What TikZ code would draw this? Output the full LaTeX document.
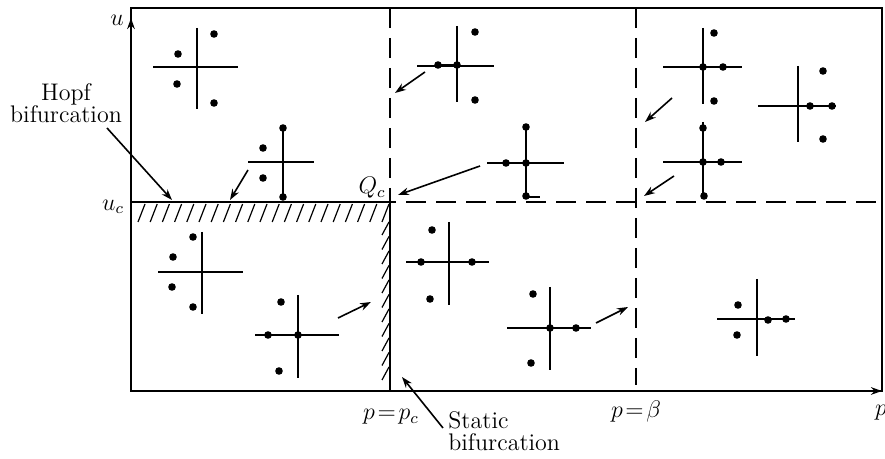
\documentclass[tikz,border=0pt]{standalone}
\usepackage{amsmath}
\usepackage{tikz}
\usetikzlibrary{arrows.meta, positioning, calc}

\begin{document}
\begin{tikzpicture}[x=0.5pt, y=-0.5pt, >={Stealth[length=5.5pt,width=3.8pt]},
    regionline/.style={line width=1pt},
    dashline/.style={line width=1.1pt, dash pattern=on 10pt off 5pt},
    crossline/.style={line width=0.65pt},
    crossbold/.style={line width=1.1pt},
    hatchline/.style={line width=0.6pt},
    flow/.style={->, line width=0.8pt},
    txt/.style={font=\large, inner sep=1pt}]

    \useasboundingbox (0,0) rectangle (885,459);

    % Frame and axes
    \coordinate (O) at (131,391);
    \coordinate (TL) at (131,8);
    \coordinate (TR) at (882,8);
    \coordinate (BR) at (882,391);
    \coordinate (Q) at (390,202);
    \coordinate (Luc) at (131,202);
    \coordinate (Ruc) at (882,202);
    \coordinate (Bpc) at (390,391);
    \coordinate (Tpc) at (390,8);
    \coordinate (Tb) at (636,8);
    \coordinate (Bb) at (636,385);

    \draw[regionline] (TL) -- (TR) -- (BR) -- (O) -- cycle;
    \draw[regionline, ->] (131,80) -- (131,18);
    \draw[regionline, ->] (800,391) -- (BR);
    \draw[regionline] (Luc) -- (Q) -- (Bpc);
    \draw[dashline] (Tpc) -- (Q) -- (Ruc);
    \draw[dashline] (Tb) -- (Bb);

    % Hatching on the bifurcation lines
    \foreach \x in {138,150.2,...,383}
        \draw[hatchline] (\x+7,204) -- (\x,222);
    \foreach \y in {222,236.5,...,380}
        \draw[hatchline] (389,\y) -- (382,\y+13);

    % Labels
    \node[txt] (u) at (117,20) {$u$};
    \node[txt] (uc) at (113,207) {$u_c$};
    \node[txt] (Qc) at (372,188) {$Q_c$};
    \node[txt] (pc) at (391,417) {$p\!=\!p_c$};
    \node[txt] (pbeta) at (636,412) {$p\!=\!\beta$};
    \node[txt] (pax) at (881,413) {$p$};
    \node[txt, align=center] (hopf) at (66,103) {Hopf\\[-3pt] bifurcation};
    \node[txt, align=left, anchor=north west] (static) at (446,409) {Static\\[-3pt] bifurcation};

    % Root diagrams, region p < p_c, u > u_c
    \draw[crossline] (153,67) -- (238,67) (197,28) -- (197,109);
    \foreach \x/\y in {214/34, 178/54, 177/84, 214/103}
        \fill (\x,\y) circle (1.9pt);
    \draw[crossline] (248,162) -- (314,162);
    \draw[crossbold] (283,126) -- (283,198);
    \foreach \x/\y in {283/128, 263/148, 263/178, 283/197}
        \fill (\x,\y) circle (1.9pt);

    % Region p_c < p < beta, u > u_c
    \draw[crossline] (417,66) -- (494,66) (457,26) -- (457,102);
    \draw[crossbold] (438,65) -- (457,65);
    \foreach \x/\y in {475/32, 438/65, 457/65, 475/100}
        \fill (\x,\y) circle (1.9pt);
    \draw[crossline] (487,163) -- (564,163);
    \draw[crossbold] (526,127) -- (526,197) -- (540,197);
    \foreach \x/\y in {526/127, 506/163, 526/163, 526/196}
        \fill (\x,\y) circle (1.9pt);

    % Region p > beta, u > u_c
    \draw[crossline] (663,67) -- (742,67) (703,28) -- (703,104);
    \foreach \x/\y in {714/33, 703/67, 723/67, 714/101}
        \fill (\x,\y) circle (1.9pt);
    \draw[crossline] (758,106) -- (836,106) (798,66) -- (798,142);
    \foreach \x/\y in {823/71, 810/106, 832/106, 823/139}
        \fill (\x,\y) circle (1.9pt);
    \draw[crossline] (663,162) -- (742,162);
    \draw[crossbold] (703,122) -- (703,198);
    \foreach \x/\y in {703/128, 703/162, 721/162, 704/196}
        \fill (\x,\y) circle (1.9pt);

    % Region p < p_c, u < u_c
    \draw[crossline] (158,272) -- (243,272) (202,232) -- (202,314);
    \foreach \x/\y in {193/237, 173/257, 172/287, 193/307}
        \fill (\x,\y) circle (1.9pt);
    \draw[crossline] (255,335) -- (339,335) (298,295) -- (298,378);
    \foreach \x/\y in {281/302, 268/335, 298/335, 279/371}
        \fill (\x,\y) circle (1.9pt);

    % Region p_c < p < beta, u < u_c
    \draw[crossline] (406,262) -- (489,262) (449,222) -- (449,305);
    \foreach \x/\y in {432/230, 421/262, 472/262, 430/299}
        \fill (\x,\y) circle (1.9pt);
    \draw[crossline] (507,328) -- (591,328) (550,287) -- (550,370);
    \foreach \x/\y in {533/294, 550/328, 576/328, 531/363}
        \fill (\x,\y) circle (1.9pt);

    % Region p > beta, u < u_c
    \draw[crossline] (717,319) -- (795,319) (757,279) -- (757,356);
    \foreach \x/\y in {738/305, 768/320, 786/319, 737/335}
        \fill (\x,\y) circle (1.9pt);

    % Transition arrows
    \coordinate (hs) at (107,128); \coordinate (he) at (172,200);
    \coordinate (as) at (248,170); \coordinate (ae) at (230,200);
    \coordinate (bs) at (480,166); \coordinate (be) at (398,195);
    \coordinate (cs) at (425,72);  \coordinate (ce) at (395,93);
    \coordinate (ds) at (672,98);  \coordinate (de) at (645,122);
    \coordinate (es) at (674,176); \coordinate (ee) at (644,196);
    \coordinate (fs) at (338,318); \coordinate (fe) at (371,302);
    \coordinate (gs) at (596,323); \coordinate (ge) at (628,307);
    \coordinate (ss) at (443,428); \coordinate (se) at (402,377);
    \foreach \a/\b in {hs/he, as/ae, bs/be, cs/ce, ds/de, es/ee, fs/fe, gs/ge, ss/se}
        \draw[flow] (\a) -- (\b);
\end{tikzpicture}
\end{document}
